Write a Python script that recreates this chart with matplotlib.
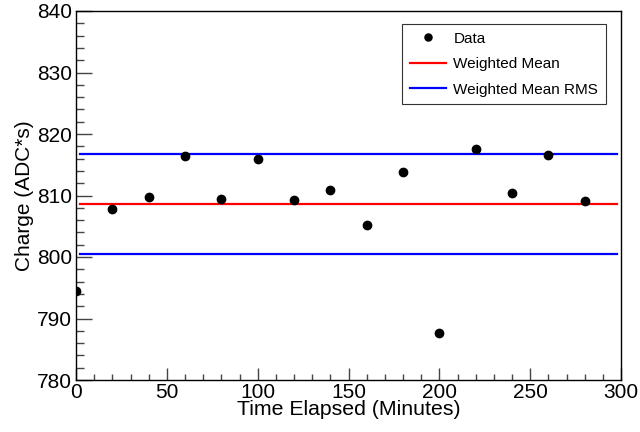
import matplotlib
matplotlib.use("Agg")
import matplotlib.pyplot as plt
from matplotlib.ticker import MultipleLocator

plt.rcParams["font.family"] = ["Liberation Sans", "DejaVu Sans"]

time_min = [0, 20, 40, 60, 80, 100, 120, 140, 160, 180, 200, 220, 240, 260, 280]
charge = [794.5, 807.8, 809.7, 816.4, 809.4, 816.0, 809.2, 810.9, 805.2, 813.8,
          787.6, 817.5, 810.4, 816.6, 809.1]
weighted_mean = 808.6
weighted_rms = 8.15
line_range = [2, 298]

fig = plt.figure(figsize=(6.4, 4.32), dpi=100)
ax = fig.add_axes([76 / 640, 52 / 432, 545 / 640, 369 / 432])

ax.plot(time_min, charge, "o", color="black", markersize=6, label="Data", zorder=3)
ax.plot(line_range, [weighted_mean] * 2, color="#ff0000", lw=1.6, label="Weighted Mean")
ax.plot(line_range, [weighted_mean + weighted_rms] * 2, color="#0000ff", lw=1.6,
        label="Weighted Mean RMS")
ax.plot(line_range, [weighted_mean - weighted_rms] * 2, color="#0000ff", lw=1.6)

ax.set_xlim(0, 300)
ax.set_ylim(780, 840)
ax.xaxis.set_major_locator(MultipleLocator(50))
ax.xaxis.set_minor_locator(MultipleLocator(10))
ax.yaxis.set_major_locator(MultipleLocator(10))
ax.yaxis.set_minor_locator(MultipleLocator(2))
ax.tick_params(which="both", direction="in", top=False, right=False, labelsize=15,
               color="#444444", width=1)
ax.tick_params(axis="y", which="major", length=11.5, pad=3)
ax.tick_params(axis="y", which="minor", length=6)
ax.tick_params(axis="x", which="major", length=8.5, pad=2)
ax.tick_params(axis="x", which="minor", length=4.5)
for s in ax.spines.values():
    s.set_linewidth(1.0)

ax.set_xlabel("Time Elapsed (Minutes)", fontsize=15.3, labelpad=-1)
ax.set_ylabel("Charge (ADC*s)", fontsize=15, labelpad=2)

leg = ax.legend(loc="upper right", bbox_to_anchor=(606 / 640, 1 - 24 / 432),
                bbox_transform=fig.transFigure, borderaxespad=0, fontsize=11,
                fancybox=False, edgecolor="#333333", framealpha=1,
                handlelength=2.35, handletextpad=0.52, labelspacing=0.75,
                borderpad=0.5, markerscale=0.85)
leg.get_frame().set_linewidth(0.8)

fig.savefig("out.png", dpi=100)
